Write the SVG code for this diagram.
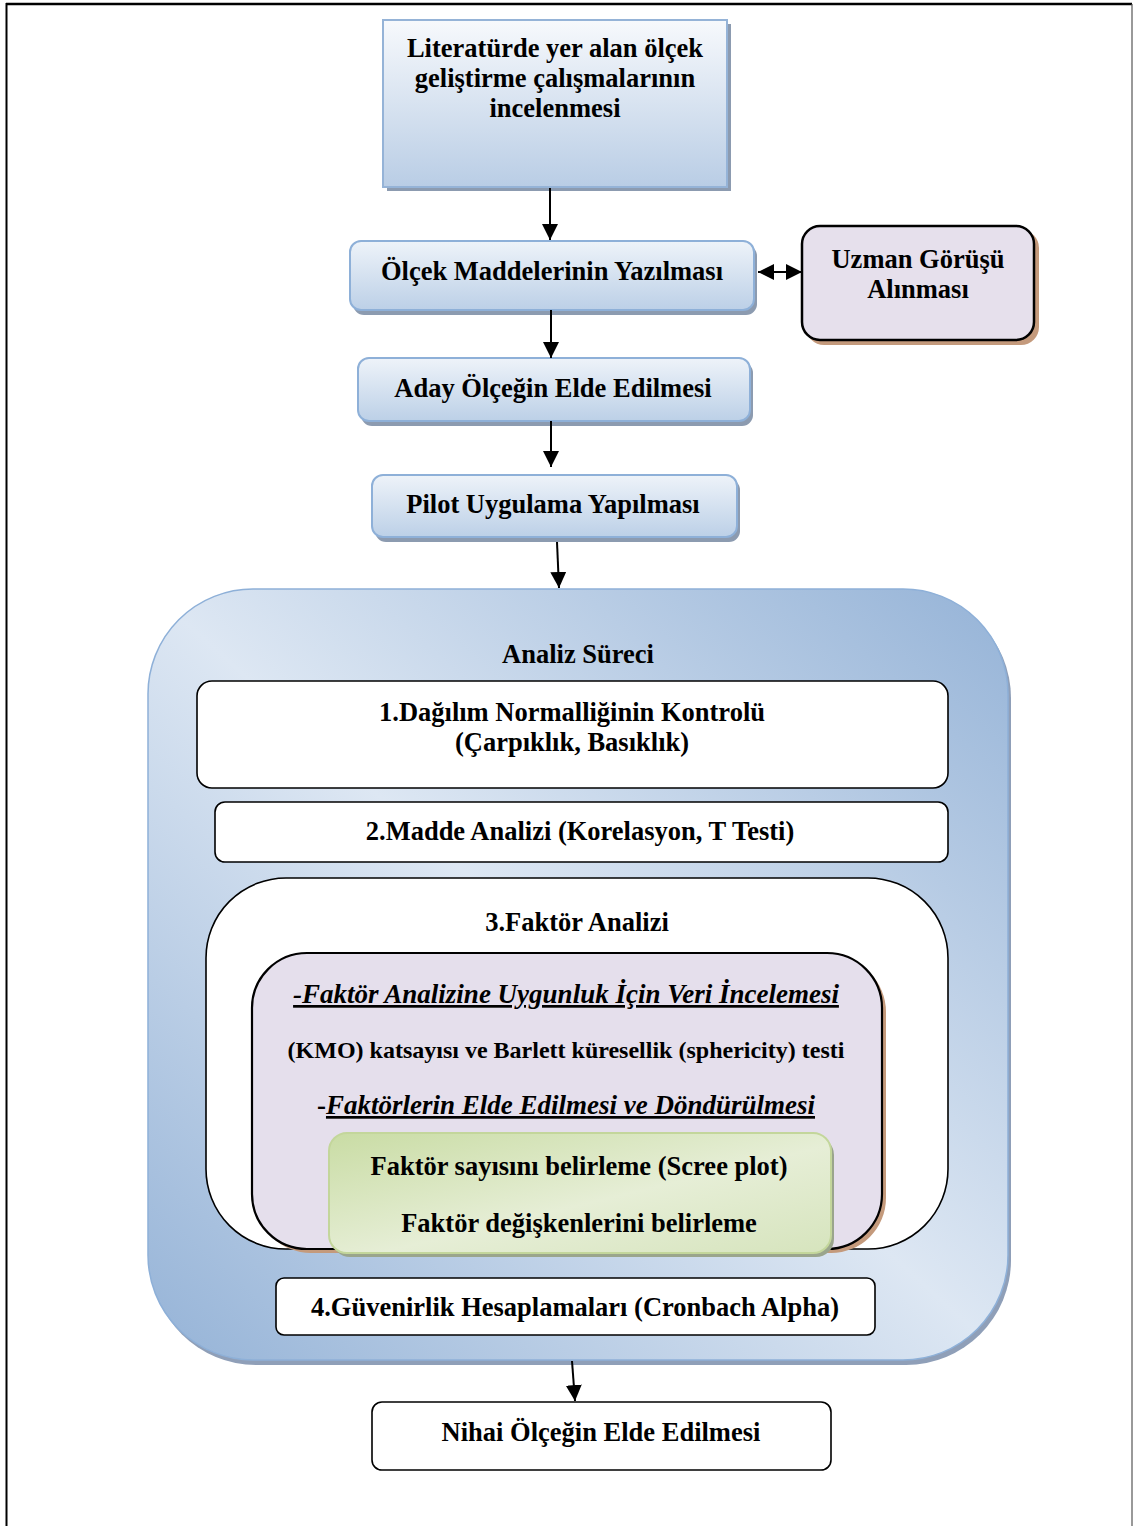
<svg xmlns="http://www.w3.org/2000/svg" width="1133" height="1526" viewBox="0 0 1133 1526">
  <defs>
    <linearGradient id="gBlueV" x1="0" y1="0" x2="0" y2="1">
      <stop offset="0" stop-color="#f7f9fc"/>
      <stop offset="1" stop-color="#b9cde5"/>
    </linearGradient>
    <linearGradient id="gBtn" x1="0" y1="0" x2="0" y2="1">
      <stop offset="0" stop-color="#eef3f9"/>
      <stop offset="1" stop-color="#bcd0e7"/>
    </linearGradient>
    <linearGradient id="gBig" x1="0.5" y1="0.5" x2="1" y2="0" spreadMethod="reflect">
      <stop offset="0" stop-color="#dde7f3"/>
      <stop offset="1" stop-color="#95b3d7"/>
    </linearGradient>
    <linearGradient id="gGreen" x1="0" y1="0" x2="1" y2="1">
      <stop offset="0" stop-color="#c9dca4"/>
      <stop offset="0.55" stop-color="#e6eed6"/>
      <stop offset="1" stop-color="#d6e4bd"/>
    </linearGradient>
    <marker id="arr" viewBox="0 0 10 10" refX="10" refY="5" markerWidth="16" markerHeight="16" markerUnits="userSpaceOnUse" orient="auto-start-reverse">
      <path d="M0,0 L10,5 L0,10 Z" fill="#000"/>
    </marker>
    <style>
      text { font-family: "Liberation Serif", "Times New Roman", serif; font-weight: bold; fill: #000; text-anchor: middle; }
      .t24 { font-size: 26.5px; }
      .ti { font-size: 27px; }
      .t20 { font-size: 24px; }
      .it { font-style: italic; text-decoration: underline; }
      .btn { fill: url(#gBtn); stroke: #8eb0d8; stroke-width: 2; }
      .btnSh { fill: #8c9bb0; }
      .wbox { fill: #fff; stroke: #000; stroke-width: 1.6; }
      .conn { stroke: #000; stroke-width: 2; fill: none; }
    </style>
  </defs>

  <!-- page frame -->
  <g id="frame">
    <rect x="0" y="0" width="1133" height="1526" fill="#fff"/>
    <line x1="6" y1="4" x2="1132" y2="4" stroke="#000" stroke-width="2.4"/>
    <line x1="6.5" y1="3" x2="6.5" y2="1526" stroke="#000" stroke-width="2"/>
    <line x1="1132" y1="4" x2="1132" y2="1526" stroke="#555" stroke-width="1.2"/>
  </g>

  <!-- literature review -->
  <g id="n-literatur">
    <rect x="387" y="24" width="344" height="167" fill="#8c9bb0"/>
    <rect x="383" y="20" width="344" height="167" fill="url(#gBlueV)" stroke="#95b3d7" stroke-width="2"/>
    <text class="t24" x="555" y="57">Literatürde yer alan ölçek</text>
    <text class="t24" x="555" y="87">geliştirme çalışmalarının</text>
    <text class="t24" x="555" y="117">incelenmesi</text>
  </g>

  <!-- writing items -->
  <g id="n-yazilmasi">
    <rect class="btnSh" x="353" y="245" width="404" height="70" rx="11"/>
    <rect class="btn" x="350" y="241" width="404" height="69" rx="11"/>
    <text class="t24" x="552" y="280">Ölçek Maddelerinin Yazılması</text>
  </g>

  <!-- expert opinion -->
  <g id="n-uzman">
    <rect x="806" y="230" width="233" height="115" rx="18" fill="#c49a7c"/>
    <rect x="802" y="226" width="232" height="114" rx="18" fill="#e6e0ec" stroke="#000" stroke-width="2.5"/>
    <text class="t24" x="918" y="268">Uzman Görüşü</text>
    <text class="t24" x="918" y="298">Alınması</text>
  </g>

  <!-- candidate scale -->
  <g id="n-aday">
    <rect class="btnSh" x="361" y="362" width="392" height="64" rx="11"/>
    <rect class="btn" x="358" y="358" width="392" height="63" rx="11"/>
    <text class="t24" x="553" y="397">Aday Ölçeğin Elde Edilmesi</text>
  </g>

  <!-- pilot study -->
  <g id="n-pilot">
    <rect class="btnSh" x="375" y="479" width="365" height="63" rx="11"/>
    <rect class="btn" x="372" y="475" width="365" height="62" rx="11"/>
    <text class="t24" x="553" y="513">Pilot Uygulama Yapılması</text>
  </g>

  <!-- analysis process container -->
  <g id="n-analiz">
    <rect x="151" y="593" width="860" height="772" rx="105" fill="#8f9fb8"/>
    <rect x="148" y="589" width="860" height="771" rx="105" fill="url(#gBig)" stroke="#8eb0d8" stroke-width="1.5"/>
    <text class="t24" x="578" y="663">Analiz Süreci</text>
  </g>

  <g id="n-dagilim">
    <rect class="wbox" x="197" y="681" width="751" height="107" rx="15"/>
    <text class="t24" x="572" y="721">1.Dağılım Normalliğinin Kontrolü</text>
    <text class="t24" x="572" y="751">(Çarpıklık, Basıklık)</text>
  </g>

  <g id="n-madde">
    <rect class="wbox" x="215" y="802" width="733" height="60" rx="10"/>
    <text class="t24" x="580" y="840">2.Madde Analizi (Korelasyon, T Testi)</text>
  </g>

  <g id="n-faktor">
    <rect class="wbox" x="206" y="878" width="742" height="371" rx="80"/>
    <text class="t24" x="577" y="931">3.Faktör Analizi</text>
  </g>

  <g id="n-faktor-detay">
    <rect x="256" y="957" width="630" height="296" rx="55" fill="#c49a7c"/>
    <rect x="252" y="953" width="630" height="296" rx="55" fill="#e5dfec" stroke="#000" stroke-width="2.2"/>
    <text class="ti it" x="566" y="1003">-Faktör Analizine Uygunluk İçin Veri İncelemesi</text>
    <text class="t20" x="566" y="1058">(KMO) katsayısı ve Barlett küresellik (sphericity) testi</text>
    <text class="ti" x="566" y="1114">-<tspan class="it">Faktörlerin Elde Edilmesi ve Döndürülmesi</tspan></text>
  </g>

  <g id="n-belirleme">
    <rect x="332" y="1137" width="502" height="120" rx="18" fill="#9aa58c"/>
    <rect x="329" y="1133" width="502" height="120" rx="18" fill="url(#gGreen)" stroke="#c3d69b" stroke-width="2"/>
    <text class="t24" x="579" y="1175">Faktör sayısını belirleme (Scree plot)</text>
    <text class="t24" x="579" y="1232">Faktör değişkenlerini belirleme</text>
  </g>

  <g id="n-guvenirlik">
    <rect class="wbox" x="276" y="1278" width="599" height="57" rx="8"/>
    <text class="t24" x="575" y="1316">4.Güvenirlik Hesaplamaları (Cronbach Alpha)</text>
  </g>

  <!-- final scale -->
  <g id="n-nihai">
    <rect class="wbox" x="372" y="1402" width="459" height="68" rx="10"/>
    <text class="t24" x="601" y="1441">Nihai Ölçeğin Elde Edilmesi</text>
  </g>

  <!-- connectors -->
  <g id="connectors">
    <line class="conn" x1="550" y1="188" x2="550" y2="240" marker-end="url(#arr)"/>
    <line class="conn" x1="758" y1="272" x2="802" y2="272" marker-start="url(#arr)" marker-end="url(#arr)"/>
    <line class="conn" x1="551" y1="310" x2="551" y2="358" marker-end="url(#arr)"/>
    <line class="conn" x1="551" y1="421" x2="551" y2="467" marker-end="url(#arr)"/>
    <line class="conn" x1="557" y1="542" x2="559" y2="588" marker-end="url(#arr)"/>
    <line class="conn" x1="572" y1="1361" x2="575" y2="1401" marker-end="url(#arr)"/>
  </g>
</svg>
